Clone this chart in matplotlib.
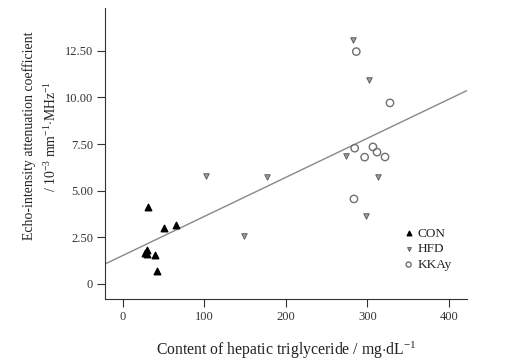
import numpy as np
import matplotlib.pyplot as plt

plt.rcParams['font.family'] = ['Liberation Serif', 'DejaVu Serif']
plt.rcParams['mathtext.fontset'] = 'custom'
plt.rcParams['mathtext.rm'] = 'Liberation Serif'
plt.rcParams['mathtext.it'] = 'Liberation Serif:italic'

# hepatic triglyceride (mg/dL) vs echo attenuation coefficient
con_x = [30.3, 50.3, 65.4, 29.0, 27.0, 29.8, 39.3, 42.1]
con_y = [4.11, 3.02, 3.17, 1.82, 1.65, 1.61, 1.54, 0.68]
hfd_x = [102.2, 176.3, 148.9, 282.2, 301.8, 273.6, 312.5, 298.2]
hfd_y = [5.81, 5.72, 2.58, 13.09, 10.93, 6.88, 5.74, 3.63]
kkay_x = [286.3, 327.6, 284.3, 306.7, 311.7, 296.5, 321.5, 283.4]
kkay_y = [12.46, 9.71, 7.28, 7.35, 7.07, 6.80, 6.81, 4.56]

# fitted line
fit_slope = 0.02095
fit_intercept = 1.53

yticks = [0, 2.5, 5.0, 7.5, 10.0, 12.5]
ytick_labels = ['0', '2.50', '5.00', '7.50', '10.00', '12.50']
xticks = [0, 100, 200, 300, 400]

fig = plt.figure(figsize=(5.12, 3.61), dpi=100)
ax = fig.add_axes([0.205, 0.172, 0.707, 0.806])

xl = np.array([-22, 422])
ax.plot(xl, fit_intercept + fit_slope * xl, color='#888888', lw=1.0, zorder=1)

ax.scatter(con_x, con_y, marker='^', s=22, color='black', label='CON', zorder=3)
ax.scatter(hfd_x, hfd_y, marker='v', s=16, facecolor='#9a9a9a', edgecolor='#555555',
           lw=0.6, label='HFD', zorder=3)
ax.scatter(kkay_x, kkay_y, marker='o', s=28, facecolor='none', edgecolor='#707070',
           lw=1.0, label='KKAy', zorder=3)

ax.set_xlim(-22, 422)
ax.set_ylim(-0.8, 14.8)
ax.set_xticks(xticks)
ax.set_yticks(yticks)
ax.set_yticklabels(ytick_labels)
ax.tick_params(direction='out', length=6, width=0.8, labelsize=9, colors='#333333', pad=2.5)

for s in ['top', 'right']:
    ax.spines[s].set_visible(False)
for s in ['left', 'bottom']:
    ax.spines[s].set_color('#333333')

ax.set_xlabel('Content of hepatic triglyceride / mg$\\cdot$dL$^{-1}$', fontsize=11.3, labelpad=12,
              color='#222222')
ax.set_ylabel('Echo-intensity attenuation coefficient\n/ 10$^{-3}$ mm$^{-1}$$\\cdot$MHz$^{-1}$',
              fontsize=9.9, linespacing=1.55, color='#222222')
ax.yaxis.set_label_coords(-0.128, 0.56)

leg = ax.legend(loc='lower right', bbox_to_anchor=(0.99, 0.055), frameon=False,
                fontsize=9.5, handletextpad=0.0, labelspacing=0.25, handlelength=1.3,
                markerscale=0.7)
for t in leg.get_texts():
    t.set_color('#222222')

fig.savefig('out.png', dpi=100)
